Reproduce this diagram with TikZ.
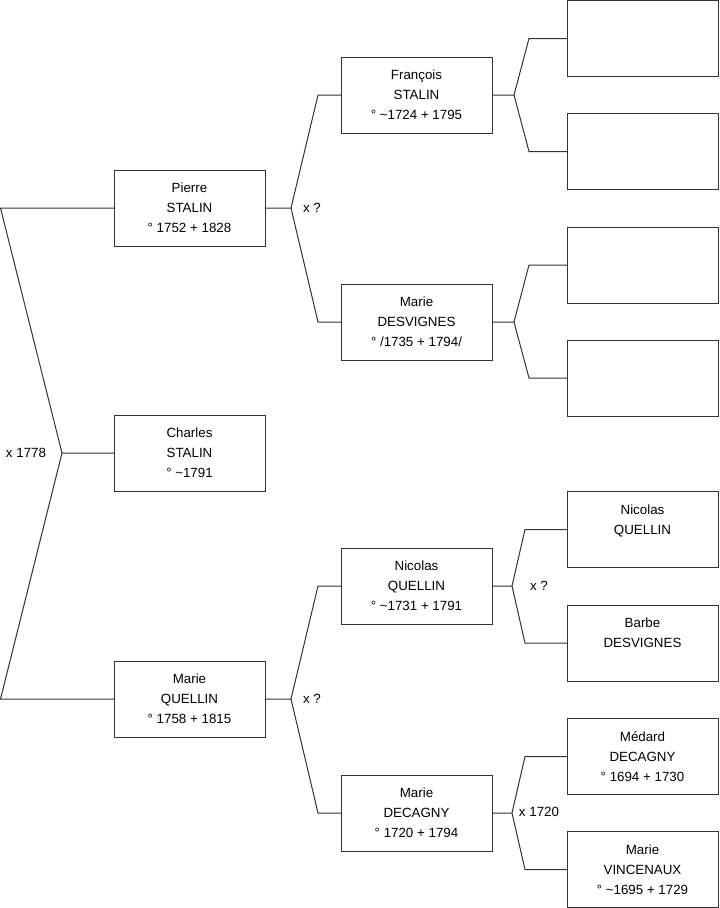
\documentclass[tikz,border=0pt]{standalone}
\usepackage{fontspec}
\setmainfont{Liberation Sans}
\tikzset{
  person/.style={draw=black!80,line width=0.75pt,minimum width=113.25pt,minimum height=57pt,inner sep=0pt,outer sep=0pt,align=center,font=\fontsize{10}{15}\selectfont},
  link/.style={draw=black!80,line width=0.75pt},
  union/.style={inner sep=0pt,font=\fontsize{10}{12}\selectfont}
}

\begin{document}
\begin{tikzpicture}[x=0.75pt,y=-0.75pt]
\useasboundingbox (0,0) rectangle (719,908);
% generation 1
\node[person](pierre) at (189.5,208){Pierre\\STALIN\\° 1752 + 1828};
\node[person](charles) at (189.5,453){Charles\\STALIN\\° \textasciitilde1791};
\node[person](marieq) at (189.5,699){Marie\\QUELLIN\\° 1758 + 1815};
% generation 2
\node[person](francois) at (416.5,95){François\\STALIN\\° \textasciitilde1724 + 1795};
\node[person](mdesv) at (416.5,322){Marie\\DESVIGNES\\° /1735 + 1794/};
\node[person](nicolas) at (416.5,586){Nicolas\\QUELLIN\\° \textasciitilde1731 + 1791};
\node[person](mdecagny) at (416.5,813){Marie\\DECAGNY\\° 1720 + 1794};
% generation 3
\node[person](ff) at (642.5,38.5){};
\node[person](fm) at (642.5,151.5){};
\node[person](mf) at (642.5,265){};
\node[person](mm) at (642.5,378){};
\node[person](nf) at (642.5,529.5){Nicolas\\QUELLIN\\\mbox{}};
\node[person](nm) at (642.5,643){Barbe\\DESVIGNES\\\mbox{}};
\node[person](df) at (642.5,756.5){Médard\\DECAGNY\\° 1694 + 1730};
\node[person](dm) at (642.5,869.5){Marie\\VINCENAUX\\° \textasciitilde1695 + 1729};
% unions
\node[union](u0) at (26,453){x 1778};
\node[union](u1) at (312,208){x ?};
\node[union](u2) at (312,699){x ?};
\node[union](u3) at (539,586){x ?};
\node[union](u4) at (539,812){x 1720};
% links
\draw[link](charles.west)--++(-52,0) coordinate(v0)--(0.5,208)--(pierre.west); \draw[link](v0)--(0.5,699)--(marieq.west);
\draw[link](pierre.east)--++(26,0) coordinate(v1)--(318,95)--(francois.west); \draw[link](v1)--(318,322)--(mdesv.west);
\draw[link](marieq.east)--++(26,0) coordinate(v2)--(318,586)--(nicolas.west); \draw[link](v2)--(318,813)--(mdecagny.west);
\draw[link](francois.east)--++(22,0) coordinate(v3)--(529,38.5)--(ff.west); \draw[link](v3)--(529,151.5)--(fm.west);
\draw[link](mdesv.east)--++(22,0) coordinate(v4)--(529,265)--(mf.west); \draw[link](v4)--(529,378)--(mm.west);
\draw[link](nicolas.east)--++(20,0) coordinate(v5)--(525,529.5)--(nf.west); \draw[link](v5)--(525,643)--(nm.west);
\draw[link](mdecagny.east)--++(20,0) coordinate(v6)--(525,756.5)--(df.west); \draw[link](v6)--(525,869.5)--(dm.west);
\end{tikzpicture}
\end{document}
